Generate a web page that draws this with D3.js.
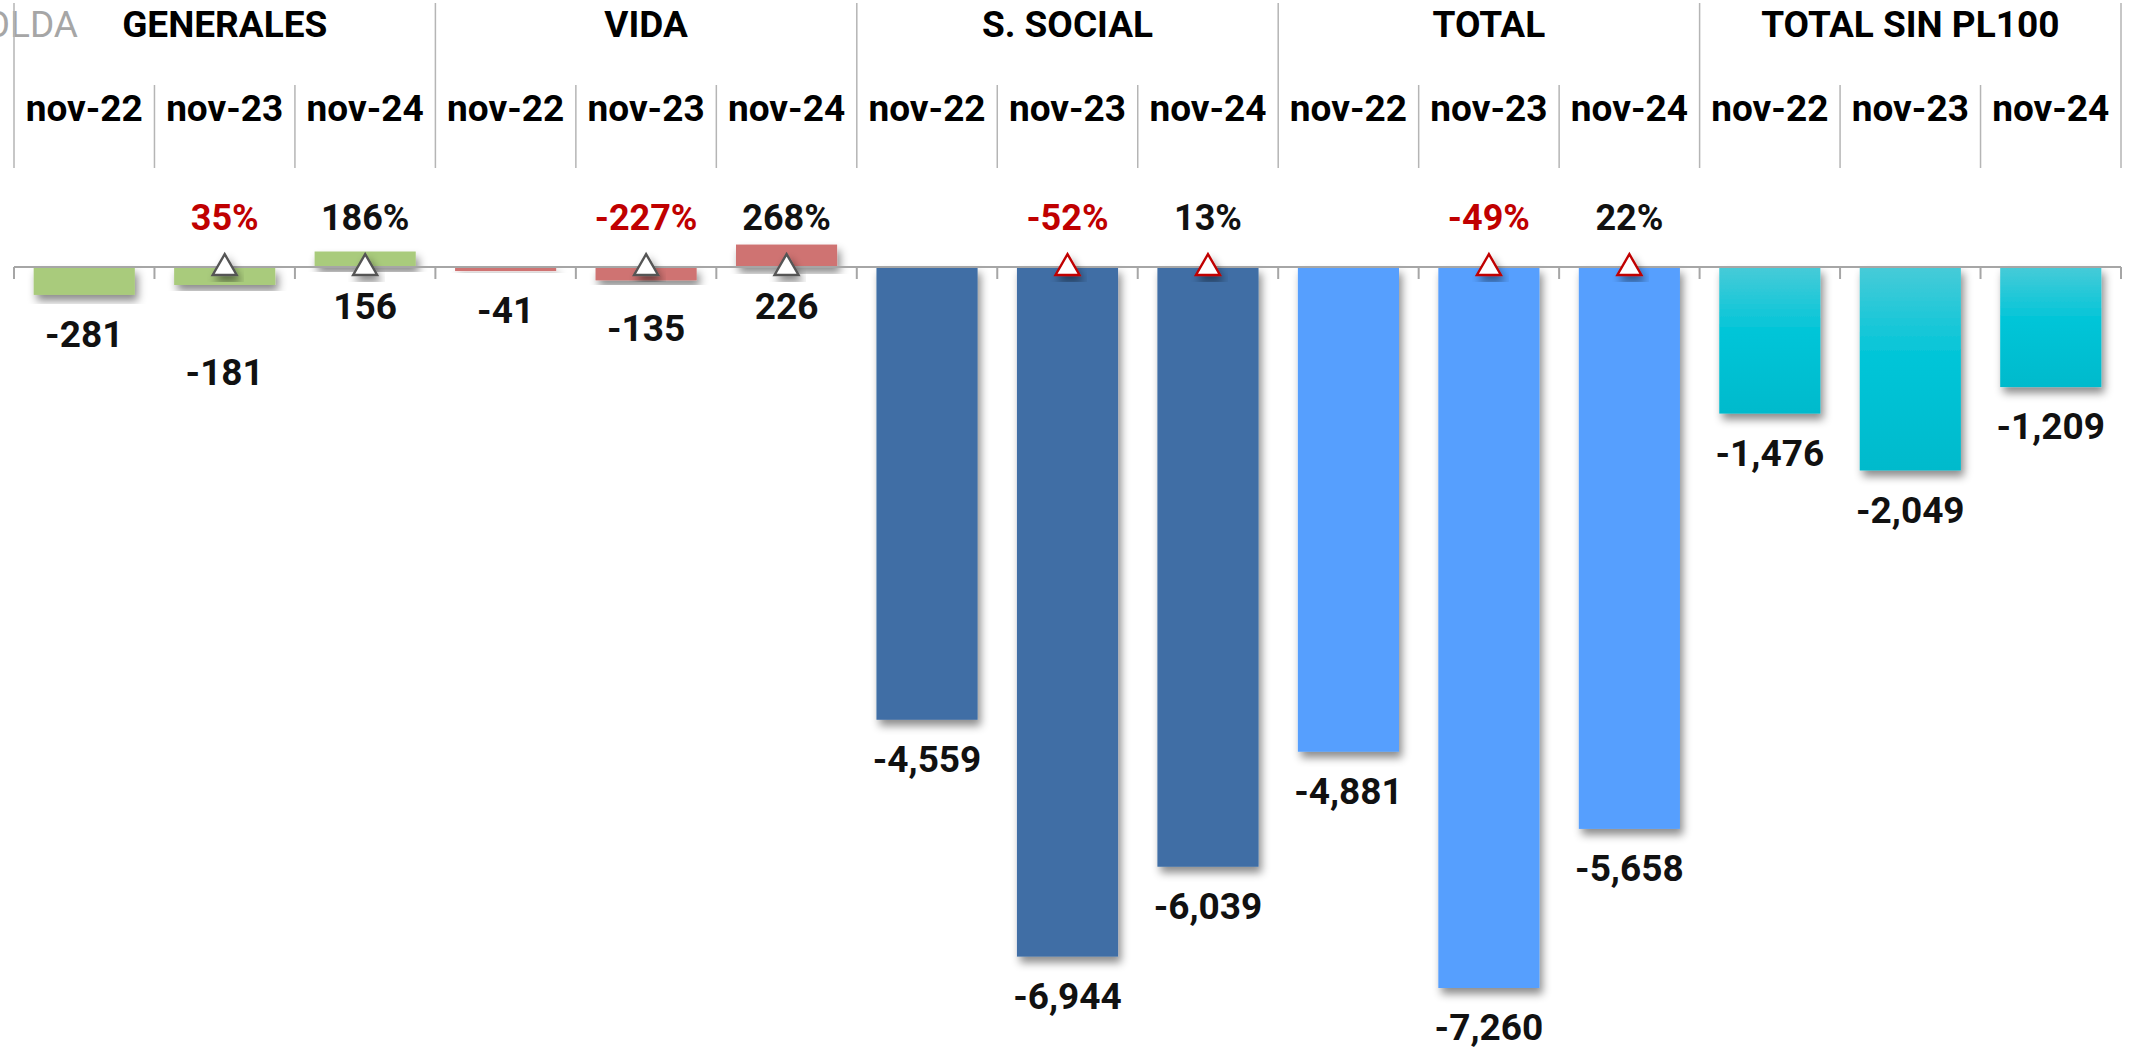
<!DOCTYPE html>
<html>
<head>
<meta charset="utf-8">
<script src="https://cdn.jsdelivr.net/npm/d3@7"></script>
<style>
  body { margin: 0; background: #fff; overflow: hidden; }
  text { font-family: Roboto, "Liberation Sans", sans-serif; }
</style>
</head>
<body>
<div id="chart-area"></div>
<script>
const WIDTH = 2139
const HEIGHT = 1047

// data
const groups = ["GENERALES", "VIDA", "S. SOCIAL", "TOTAL", "TOTAL SIN PL100"]
const periods = ["nov-22", "nov-23", "nov-24"]
const generales = [-281, -181, 156]
const vida = [-41, -135, 226]
const sSocial = [-4559, -6944, -6039]
const total = [-4881, -7260, -5658]
const totalSinPl100 = [-1476, -2049, -1209]
// year-on-year change (%), none for the first period
const pctGenerales = [null, 35, 186]
const pctVida = [null, -227, 268]
const pctSocial = [null, -52, 13]
const pctTotal = [null, -49, 22]
const pctSinPl100 = [null, null, null]

const groupValues = [generales, vida, sSocial, total, totalSinPl100]
const groupPct = [pctGenerales, pctVida, pctSocial, pctTotal, pctSinPl100]
const groupColors = ["#A9CB7B", "#CF7372", "#3F6EA5", "#569FFE", "url(#tealGrad)"]
const markerStroke = ["#555", "#555", "#C00000", "#C00000", "#C00000"]

// label tweaks seen in the original (extra px below the bar)
const labelNudge = { "GENERALES|nov-23": 48, "VIDA|nov-23": 8 }

const rows = []
groups.forEach((g, gi) => {
  periods.forEach((p, pi) => {
    rows.push({
      key: g + "|" + p, group: g, gi: gi, period: p, pi: pi,
      value: groupValues[gi][pi], pct: groupPct[gi][pi]
    })
  })
})

const fmt = d3.formatLocale({ decimal: ".", thousands: ",", grouping: [3], currency: ["", ""], minus: "-" }).format(",")

const svg = d3.select("#chart-area").append("svg")
  .attr("width", WIDTH)
  .attr("height", HEIGHT)

const defs = svg.append("defs")
const grad = defs.append("linearGradient")
  .attr("id", "tealGrad")
  .attr("x1", 0).attr("y1", 0).attr("x2", 0).attr("y2", 1)
grad.append("stop").attr("offset", "0%").attr("stop-color", "#47CBD8")
grad.append("stop").attr("offset", "45%").attr("stop-color", "#00C5D8")
grad.append("stop").attr("offset", "100%").attr("stop-color", "#00BACC")

const shadow = defs.append("filter")
  .attr("id", "shadow")
  .attr("x", "-20%").attr("y", "-20%").attr("width", "150%").attr("height", "150%")
shadow.append("feDropShadow")
  .attr("dx", 3).attr("dy", 6).attr("stdDeviation", 4)
  .attr("flood-color", "#000").attr("flood-opacity", 0.45)

const x = d3.scaleBand()
  .domain(rows.map(d => d.key))
  .range([14, 2121])
  .paddingInner(0.28)
  .paddingOuter(0.14)

const y = d3.scaleLinear()
  .domain([0, -7260])
  .range([267, 988])

const step = x.step()
const left = d => x(d.key) - step * x.paddingInner() / 2
const cx = d => x(d.key) + x.bandwidth() / 2

// clipped title on the far left
svg.append("text")
  .attr("x", 78)
  .attr("y", 37)
  .attr("text-anchor", "end")
  .attr("font-size", "37px")
  .attr("fill", "#A6A6A6")
  .text("SOLDA")

// header separators
const bounds = rows.map((d, i) => ({ x: left(d), long: i % 3 === 0 }))
bounds.push({ x: left(rows[rows.length - 1]) + step, long: true })

svg.append("g").selectAll("line")
  .data(bounds)
  .enter().append("line")
    .attr("x1", d => d.x).attr("x2", d => d.x)
    .attr("y1", d => d.long ? 3 : 85)
    .attr("y2", 168)
    .attr("stroke", "#B5B5B5")
    .attr("stroke-width", 1.5)

// group titles
svg.append("g").selectAll("text")
  .data(groups)
  .enter().append("text")
    .attr("x", (g, gi) => (left(rows[gi * 3]) + left(rows[gi * 3 + 2]) + step) / 2)
    .attr("y", 37)
    .attr("text-anchor", "middle")
    .attr("font-size", "37px")
    .attr("font-weight", "bold")
    .attr("fill", "#000")
    .text(g => g)

// period labels
svg.append("g").selectAll("text")
  .data(rows)
  .enter().append("text")
    .attr("x", cx)
    .attr("y", 121)
    .attr("text-anchor", "middle")
    .attr("font-size", "37px")
    .attr("font-weight", "bold")
    .attr("fill", "#000")
    .text(d => d.period)

// bars
svg.append("g").selectAll("rect")
  .data(rows)
  .enter().append("rect")
    .attr("x", d => x(d.key))
    .attr("width", x.bandwidth())
    .attr("y", d => Math.min(y(d.value), y(0)))
    .attr("height", d => Math.abs(y(d.value) - y(0)))
    .attr("fill", d => groupColors[d.gi])
    .attr("filter", "url(#shadow)")

// zero axis with ticks at the category edges
const axis = svg.append("g")
axis.append("line")
  .attr("x1", bounds[0].x).attr("x2", bounds[bounds.length - 1].x)
  .attr("y1", y(0)).attr("y2", y(0))
  .attr("stroke", "#A6A6A6")
  .attr("stroke-width", 2)
axis.selectAll(".tick")
  .data(bounds)
  .enter().append("line")
    .attr("class", "tick")
    .attr("x1", d => d.x).attr("x2", d => d.x)
    .attr("y1", y(0)).attr("y2", y(0) + 12)
    .attr("stroke", "#A6A6A6")
    .attr("stroke-width", 2)

// value labels
svg.append("g").selectAll("text")
  .data(rows)
  .enter().append("text")
    .attr("x", cx)
    .attr("y", d => Math.max(y(d.value), y(0)) + 39 + (labelNudge[d.key] || 0))
    .attr("dy", "0.36em")
    .attr("text-anchor", "middle")
    .attr("font-size", "37px")
    .attr("font-weight", "bold")
    .attr("fill", "#111")
    .text(d => fmt(d.value))

const withPct = rows.filter(d => d.pct !== null)

// triangle markers on the axis
svg.append("g").selectAll("path")
  .data(withPct)
  .enter().append("path")
    .attr("d", d3.symbol(d3.symbolTriangle, 250))
    .attr("transform", d => `translate(${cx(d)}, ${y(0) + 1})`)
    .attr("fill", "#fff")
    .attr("stroke", d => markerStroke[d.gi])
    .attr("stroke-width", 2.4)
    .attr("filter", "url(#shadow)")

// percentage labels
svg.append("g").selectAll("text")
  .data(withPct)
  .enter().append("text")
    .attr("x", cx)
    .attr("y", 217)
    .attr("dy", "0.36em")
    .attr("text-anchor", "middle")
    .attr("font-size", "36px")
    .attr("font-weight", "bold")
    .attr("fill", d => d.pi === 1 ? "#C00000" : "#111")
    .text(d => d.pct + "%")
</script>
</body>
</html>
